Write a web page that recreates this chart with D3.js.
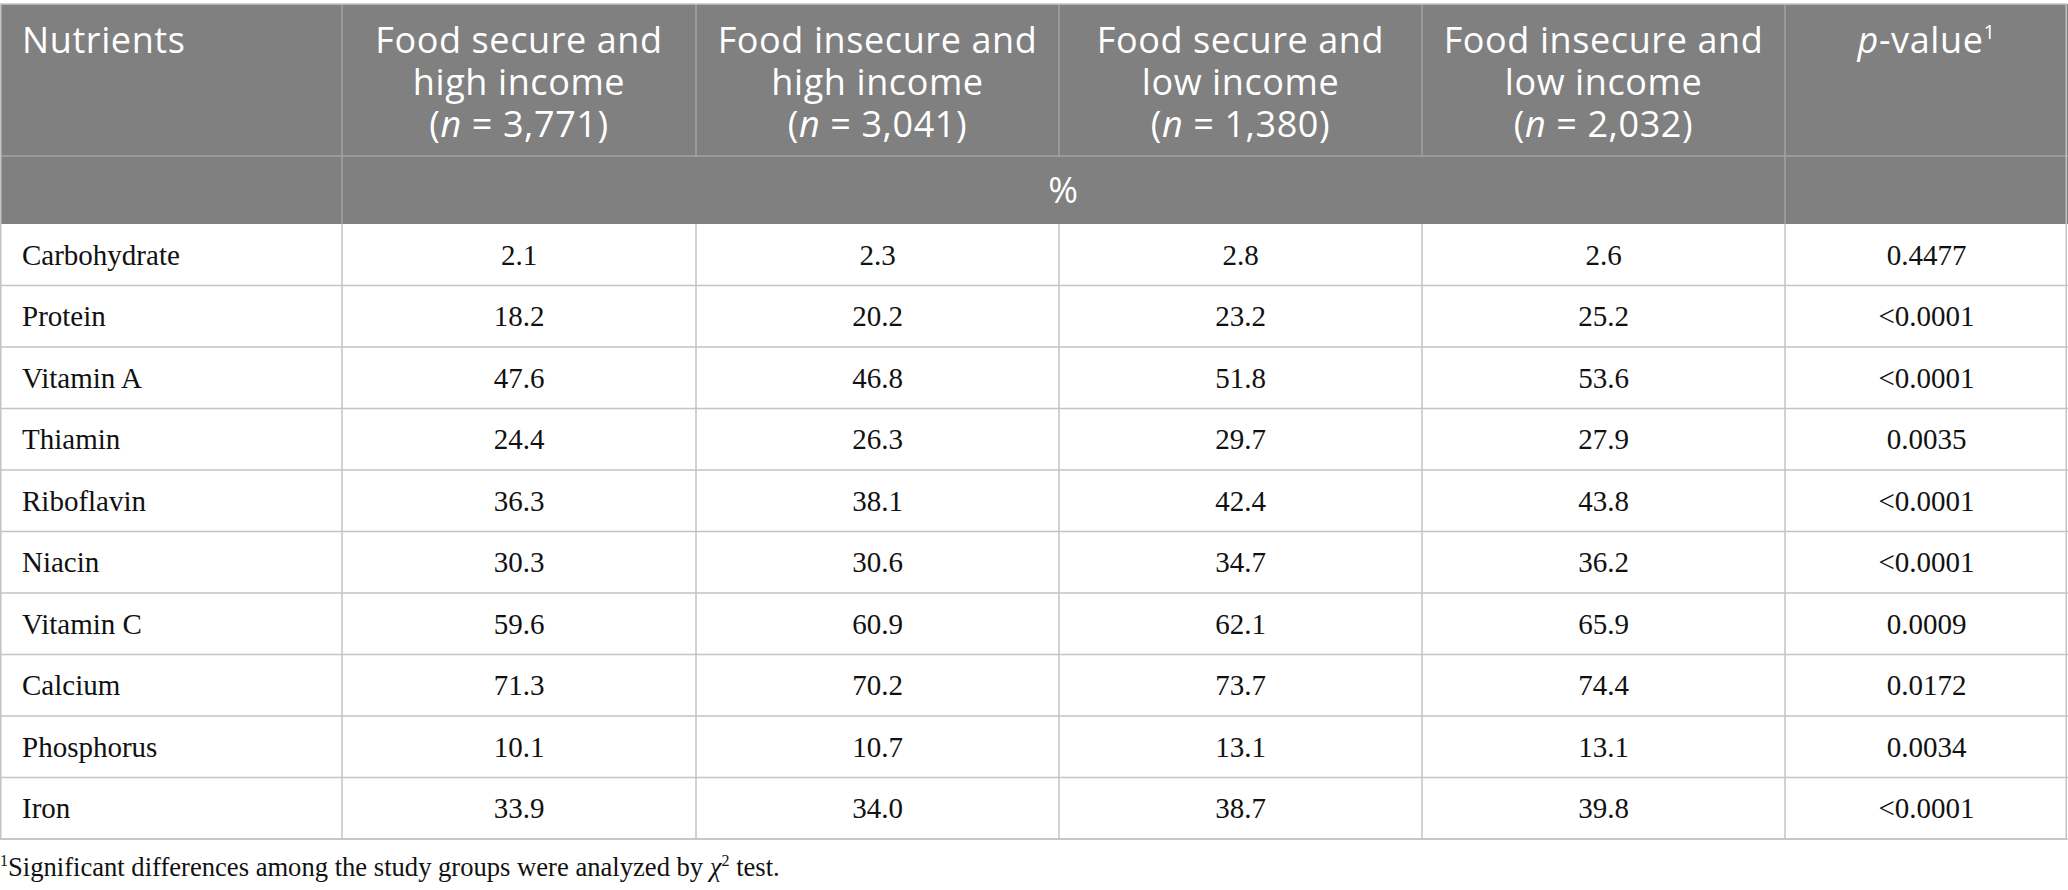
<!DOCTYPE html>
<html>
<head>
<meta charset="utf-8">
<script src="https://cdn.jsdelivr.net/npm/d3@7"></script>
<style>
  body { margin: 0; background: #fff; }
</style>
</head>
<body>
<div id="root"></div>
<script>
// table data
const nutrients = ["Carbohydrate", "Protein", "Vitamin A", "Thiamin", "Riboflavin",
  "Niacin", "Vitamin C", "Calcium", "Phosphorus", "Iron"];
const groupTitles = [
  ["Food secure and", "high income"],
  ["Food insecure and", "high income"],
  ["Food secure and", "low income"],
  ["Food insecure and", "low income"]
];
const groupN = ["3,771", "3,041", "1,380", "2,032"];
const secureHigh   = ["2.1", "18.2", "47.6", "24.4", "36.3", "30.3", "59.6", "71.3", "10.1", "33.9"];
const insecureHigh = ["2.3", "20.2", "46.8", "26.3", "38.1", "30.6", "60.9", "70.2", "10.7", "34.0"];
const secureLow    = ["2.8", "23.2", "51.8", "29.7", "42.4", "34.7", "62.1", "73.7", "13.1", "38.7"];
const insecureLow  = ["2.6", "25.2", "53.6", "27.9", "43.8", "36.2", "65.9", "74.4", "13.1", "39.8"];
const pValues = ["0.4477", "<0.0001", "<0.0001", "0.0035", "<0.0001", "<0.0001",
  "0.0009", "0.0172", "0.0034", "<0.0001"];

const series = [secureHigh, insecureHigh, secureLow, insecureLow];

const W = 2068, H = 890;
const colWidths = [342, 354, 363, 363, 363, 283];
const edges = [0, ...d3.cumsum(colWidths)];
const tableTop = 4, headBottom = 156, pctBottom = 224, tableBottom = 839;
const padLeft = 22;

const headFont = "'Open Sans', 'Noto Sans', sans-serif";
const bodyFont = "'Liberation Serif', 'DejaVu Serif', serif";
const lineColor = "#c3c3c3";
const headLine = "#a3a3a3";

const svg = d3.select("#root")
  .append("svg")
  .attr("width", W)
  .attr("height", H);

const y = d3.scaleBand()
  .domain(nutrients)
  .range([pctBottom, tableBottom]);

const cx = i => (edges[i] + edges[i + 1]) / 2;

// header background
svg.append("rect")
  .attr("x", 0).attr("y", tableTop)
  .attr("width", W).attr("height", pctBottom - tableTop)
  .attr("fill", "#7f807f");

// header grid lines
svg.append("line")
  .attr("x1", 0).attr("x2", W)
  .attr("y1", headBottom).attr("y2", headBottom)
  .attr("stroke", headLine).attr("stroke-width", 1.5);

svg.selectAll(".vhead")
  .data(edges.slice(1, -1))
  .enter().append("line")
    .attr("x1", d => d).attr("x2", d => d)
    .attr("y1", tableTop).attr("y2", headBottom)
    .attr("stroke", headLine).attr("stroke-width", 1.5);

svg.selectAll(".vpct")
  .data([edges[1], edges[5]])
  .enter().append("line")
    .attr("x1", d => d).attr("x2", d => d)
    .attr("y1", headBottom).attr("y2", pctBottom)
    .attr("stroke", headLine).attr("stroke-width", 1.5);

// body grid lines
svg.selectAll(".hrow")
  .data(nutrients)
  .enter().append("line")
    .attr("x1", 0).attr("x2", W)
    .attr("y1", d => y(d) + y.bandwidth())
    .attr("y2", d => y(d) + y.bandwidth())
    .attr("stroke", lineColor).attr("stroke-width", 1.5);

svg.selectAll(".vrow")
  .data(edges.slice(1, -1))
  .enter().append("line")
    .attr("x1", d => d).attr("x2", d => d)
    .attr("y1", pctBottom).attr("y2", tableBottom)
    .attr("stroke", lineColor).attr("stroke-width", 1.5);

// outer frame
svg.append("rect")
  .attr("x", 0.75).attr("y", tableTop)
  .attr("width", W - 2.5).attr("height", tableBottom - tableTop)
  .attr("fill", "none")
  .attr("stroke", lineColor).attr("stroke-width", 1.5);

// header text
const head = svg.append("g")
  .attr("font-family", headFont)
  .attr("font-weight", 400)
  .attr("font-size", 36)
  .attr("letter-spacing", 0.6)
  .attr("fill", "#fff");

head.append("text")
  .attr("x", padLeft).attr("y", 53)
  .text("Nutrients");

groupTitles.forEach((lines, i) => {
  const t = head.append("text")
    .attr("text-anchor", "middle");
  lines.forEach((s, j) => {
    t.append("tspan")
      .attr("x", cx(i + 1)).attr("y", 53 + j * 42)
      .text(s);
  });
  const last = t.append("tspan")
    .attr("x", cx(i + 1)).attr("y", 137);
  last.append("tspan").text("(");
  last.append("tspan").attr("font-style", "italic").text("n");
  last.append("tspan").text(" = " + groupN[i] + ")");
});

const pv = head.append("text")
  .attr("x", cx(5)).attr("y", 53)
  .attr("text-anchor", "middle");
pv.append("tspan").attr("font-style", "italic").text("p");
pv.append("tspan").text("-value");
pv.append("tspan").attr("font-size", 20).attr("dy", -14).text("1");

head.append("text")
  .attr("x", (edges[1] + edges[5]) / 2).attr("y", 203)
  .attr("text-anchor", "middle")
  .text("%");

// body text
const body = svg.append("g")
  .attr("font-family", bodyFont)
  .attr("font-size", 29)
  .attr("fill", "#111");

body.selectAll(".name")
  .data(nutrients)
  .enter().append("text")
    .attr("x", padLeft)
    .attr("y", d => y(d) + y.bandwidth() / 2 + 10)
    .text(d => d);

series.forEach((vals, i) => {
  body.selectAll(".c" + i)
    .data(vals)
    .enter().append("text")
      .attr("x", cx(i + 1))
      .attr("y", (d, k) => y(nutrients[k]) + y.bandwidth() / 2 + 10)
      .attr("text-anchor", "middle")
      .text(d => d);
});

body.selectAll(".p")
  .data(pValues)
  .enter().append("text")
    .attr("x", cx(5))
    .attr("y", (d, k) => y(nutrients[k]) + y.bandwidth() / 2 + 10)
    .attr("text-anchor", "middle")
    .text(d => d);

// footnote
const note = svg.append("text")
  .attr("x", 0).attr("y", 876)
  .attr("font-family", bodyFont)
  .attr("font-size", 26.6)
  .attr("fill", "#111");
note.append("tspan").attr("font-size", 16).attr("dy", -10).text("1");
note.append("tspan").attr("dy", 10).text("Significant differences among the study groups were analyzed by ");
note.append("tspan").attr("font-style", "italic").text("χ");
note.append("tspan").attr("font-size", 16).attr("dy", -10).text("2");
note.append("tspan").attr("dy", 10).text(" test.");
</script>
</body>
</html>
